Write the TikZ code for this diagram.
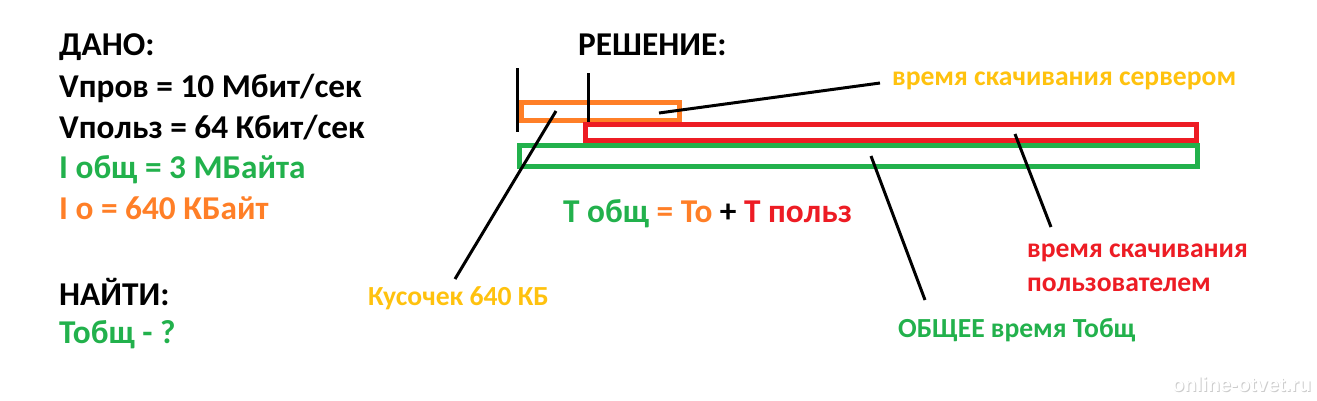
\documentclass[tikz,border=0pt]{standalone}
\usepackage{fontspec}
\setmainfont{Carlito}
\newfontfamily\wmfont{Liberation Sans}
\definecolor{pgreen}{HTML}{22B14C}
\definecolor{pred}{HTML}{ED1C24}
\definecolor{porange}{HTML}{FF7F27}
\definecolor{pgold}{HTML}{FFC20E}
\begin{document}
\begin{tikzpicture}[x=1pt,y=-1pt,
  txt/.style={inner sep=0pt, anchor=base west, font=\fontsize{33.3}{33.3}\selectfont\bfseries},
  lbl/.style={inner sep=0pt, anchor=base west, font=\fontsize{27.6}{27.6}\selectfont\bfseries},
  bar/.style={draw=#1, line width=5pt, inner sep=0pt, outer sep=0pt, anchor=north west},
  lead/.style={line width=3pt, black},
  tick/.style={line width=3pt, black}]
\useasboundingbox[fill=white] (0,0) rectangle (1317,400);

% Given
\node[txt] (dano) at (59,55) {ДАНО:};
\node[txt] (vprov) at (59,97) {Vпров = 10 Мбит/сек};
\node[txt] (vpolz) at (59,138) {Vпольз = 64 Кбит/сек};
\node[txt, text=pgreen] (iobsh) at (59,178) {I общ = 3 МБайта};
\node[txt, text=porange] (io) at (59,219) {I о = 640 КБайт};
\node[txt] (najti) at (59,305) {НАЙТИ:};
\node[txt, text=pgreen] (tobsh) at (59,343) {Тобщ - ?};

% Solution
\node[txt] (resh) at (578,55) {РЕШЕНИЕ:};
\node[txt] (formula) at (563,222) {\textcolor{pgreen}{Т общ} \textcolor{porange}{= То} + \textcolor{pred}{Т польз}};

% bars
\node[bar=porange, minimum width=158pt, minimum height=18pt] (obar) at (521.5,102.5) {};
\node[bar=pgreen, minimum width=678pt, minimum height=21pt] (gbar) at (519.5,145.5) {};
\node[bar=pred, minimum width=611pt, minimum height=16pt] (rbar) at (585.5,124.5) {};

% ticks
\coordinate (t1a) at (517,68); \coordinate (t1b) at (517,132);
\coordinate (t2a) at (588,73); \coordinate (t2b) at (588,122);
\draw[tick] (t1a) -- (t1b);
\draw[tick] (t2a) -- (t2b);

% labels
\node[lbl, text=pgold] (lserv) at (892,85) {время скачивания сервером};
\node[lbl, text=pgold] (lkus) at (368,305) {Кусочек 640 КБ};
\node[lbl, text=pred] (luser1) at (1027,257) {время скачивания};
\node[lbl, text=pred] (luser2) at (1027,291) {пользователем};
\node[lbl, text=pgreen] (ltot) at (898,337) {ОБЩЕЕ время Тобщ};

% leader lines
\coordinate (s1) at (659,113); \coordinate (s2) at (880,83);
\coordinate (k1) at (556,111); \coordinate (k2) at (455,279);
\coordinate (g1) at (871,156); \coordinate (g2) at (925,300);
\coordinate (r1) at (1015,134); \coordinate (r2) at (1051,227);
\draw[lead] (s1) -- (s2);
\draw[lead] (k1) -- (k2);
\draw[lead] (g1) -- (g2);
\draw[lead] (r1) -- (r2);

% watermark
\node[inner sep=0pt, anchor=base west, font=\wmfont\fontsize{20}{20}\selectfont\bfseries, text=gray!40] (wms) at (1173,392) {online-otvet.ru};
\node[inner sep=0pt, anchor=base west, font=\wmfont\fontsize{20}{20}\selectfont\bfseries, text=white] (wm) at (1172,391) {online-otvet.ru};
\end{tikzpicture}
\end{document}
